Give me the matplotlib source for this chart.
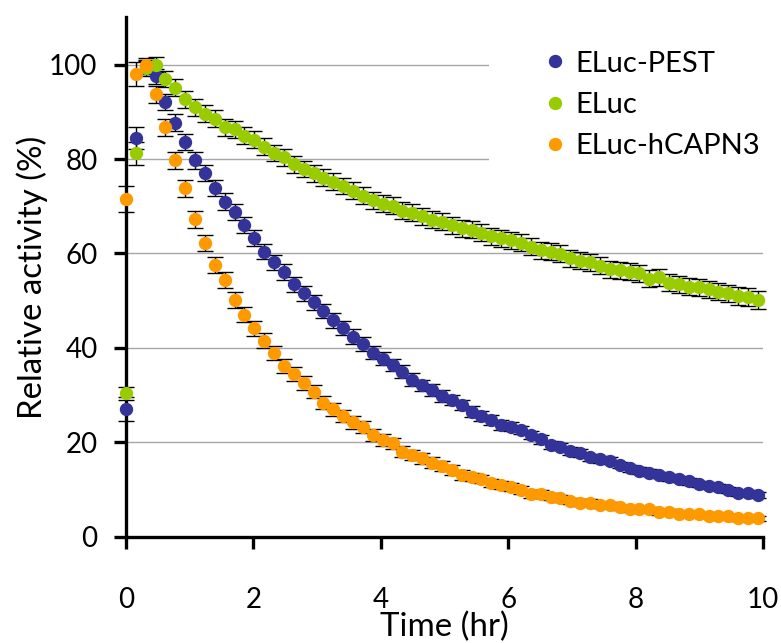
import numpy as np
import matplotlib as mpl
mpl.use('Agg')
from matplotlib import pyplot as plt

# ---------- data ----------

# read-out times (minutes after CHX addition)
time_min = [0, 9.3, 18.6, 27.9, 37.2, 46.5, 55.8, 65.1, 74.4, 83.7,
            93.0, 102.3, 111.6, 120.9, 130.2, 139.5, 148.8, 158.1, 167.4, 176.7,
            186.0, 195.3, 204.6, 213.9, 223.2, 232.5, 241.8, 251.1, 260.4, 269.7,
            279.0, 288.3, 297.6, 306.9, 316.2, 325.5, 334.8, 344.1, 353.4, 362.7,
            372.0, 381.3, 390.6, 399.9, 409.2, 418.5, 427.8, 437.1, 446.4, 455.7,
            465.0, 474.3, 483.6, 492.9, 502.2, 511.5, 520.8, 530.1, 539.4, 548.7,
            558.0, 567.3, 576.6, 585.9, 595.2]

# relative activity (%)
eluc_pest = [27.1, 84.5, 99.5, 97.5, 92.0, 87.7, 83.6, 79.8, 77.1, 73.8, 71.0, 68.7, 66.0, 63.2,
             60.4, 58.1, 56.1, 53.5, 51.6, 49.7, 47.9, 45.9, 44.2, 42.4, 40.8, 39.0, 37.7,
             36.4, 35.0, 33.3, 32.1, 31.1, 29.8, 29.0, 27.9, 26.5, 25.6, 24.7, 23.7, 23.3,
             22.6, 21.5, 20.6, 19.4, 19.1, 18.2, 17.7, 16.8, 16.4, 16.1, 15.2, 14.5, 14.0,
             13.6, 13.1, 12.6, 12.2, 11.7, 11.2, 10.7, 10.5, 9.9, 9.3, 9.3, 8.8]
eluc = [30.4, 81.2, 99.2, 100.0, 97.0, 95.1, 92.7, 91.0, 89.6, 88.6, 86.7, 86.3, 84.9, 84.1,
        82.6, 81.2, 80.4, 78.9, 77.9, 77.0, 76.1, 75.2, 74.2, 73.3, 72.2, 71.3, 70.5,
        70.1, 69.1, 68.6, 67.9, 67.2, 66.7, 66.0, 65.3, 65.0, 64.4, 63.7, 63.2, 62.8,
        62.3, 61.4, 60.7, 60.4, 59.9, 59.0, 58.5, 58.1, 57.4, 56.7, 56.5, 56.1, 55.8,
        54.7, 55.0, 53.8, 53.5, 53.0, 52.8, 52.4, 51.9, 51.6, 51.0, 50.7, 50.1]
eluc_hcapn3 = [71.5, 98.0, 100.0, 93.7, 86.7, 79.8, 73.8, 67.3, 62.3, 57.6, 54.4, 50.1, 47.0, 44.2,
               41.5, 39.0, 36.2, 34.4, 32.5, 30.7, 28.4, 27.0, 25.6, 24.2, 23.2, 21.5, 20.5,
               19.8, 18.0, 17.3, 16.6, 15.7, 15.0, 14.1, 13.1, 12.7, 12.2, 11.4, 11.0, 10.5,
               9.9, 9.0, 9.0, 8.5, 8.1, 7.6, 7.2, 7.2, 6.7, 6.7, 6.2, 5.8, 5.8,
               5.8, 5.3, 5.3, 4.8, 4.8, 4.8, 4.4, 4.4, 4.4, 3.9, 3.9, 3.9]

# error bars (SD, %)
eluc_pest_err = [2.5, 2.3, 1.5, 1.6, 1.7, 1.8, 1.7, 1.8, 1.7, 1.7, 1.8, 1.7, 1.7, 1.7,
                 1.6, 1.6, 1.7, 1.6, 1.6, 1.6, 1.5, 1.6, 1.5, 1.5, 1.5, 1.4, 1.4,
                 1.3, 1.3, 1.3, 1.2, 1.2, 1.2, 1.1, 1.1, 1.1, 1.0, 1.0, 1.0, 1.0,
                 0.9, 0.9, 0.9, 0.9, 0.8, 0.8, 0.8, 0.8, 0.8, 0.8, 0.7, 0.7, 0.7,
                 0.7, 0.7, 0.7, 0.7, 0.7, 0.6, 0.6, 0.6, 0.6, 0.6, 0.6, 0.6]
eluc_err = [1.4, 2.4, 1.5, 1.6, 1.7, 1.8, 1.8, 1.8, 1.8, 1.8, 1.8, 1.8, 1.8, 1.8,
            1.8, 1.7, 1.8, 1.8, 1.7, 1.8, 1.8, 1.8, 1.7, 1.8, 1.8, 1.8, 1.8,
            1.8, 1.8, 1.8, 1.8, 1.8, 1.8, 1.8, 1.8, 1.8, 1.8, 1.8, 1.8, 1.8,
            1.8, 1.8, 1.8, 1.8, 1.8, 1.8, 1.8, 1.8, 1.8, 1.8, 1.8, 1.8, 1.8,
            1.8, 1.8, 1.8, 1.8, 1.8, 1.8, 1.8, 1.8, 1.8, 1.9, 1.9, 1.9]
eluc_hcapn3_err = [2.8, 2.5, 1.5, 1.8, 1.8, 1.8, 1.8, 1.8, 1.7, 1.7, 1.7, 1.7, 1.6, 1.6,
                   1.6, 1.5, 1.5, 1.5, 1.5, 1.4, 1.4, 1.4, 1.3, 1.3, 1.3, 1.3, 1.2,
                   1.2, 1.2, 1.1, 1.1, 1.1, 1.0, 1.0, 1.0, 0.9, 0.9, 0.9, 0.9, 0.8,
                   0.8, 0.8, 0.8, 0.7, 0.7, 0.7, 0.7, 0.7, 0.6, 0.6, 0.6, 0.6, 0.6,
                   0.6, 0.6, 0.5, 0.5, 0.5, 0.5, 0.5, 0.5, 0.5, 0.5, 0.5, 0.5]

labels = ["ELuc-PEST", "ELuc", "ELuc-hCAPN3"]
colours = ["#333399", "#99CC00", "#FF9900"]
x_ticks = [0, 2, 4, 6, 8, 10]
y_ticks = [0, 20, 40, 60, 80, 100]

# ---------- plot ----------

plt.rcParams['font.family'] = ['Lato', 'DejaVu Sans']

fig = plt.figure(figsize=(7.81, 6.43), dpi=100)
ax = fig.add_axes([0.1613, 0.1653, 0.8157, 0.8075])

time_hr = np.array(time_min) / 60.0
series = [(eluc_pest, eluc_pest_err), (eluc, eluc_err), (eluc_hcapn3, eluc_hcapn3_err)]

handles = []
for (vals, errs), col, lab in zip(series, colours, labels):
    ax.errorbar(time_hr, vals, yerr=errs, fmt='none', ecolor='black',
                elinewidth=1.0, capsize=5.5, capthick=1.0, clip_on=False, zorder=3)
    h, = ax.plot(time_hr, vals, 'o', color=col, mec=col, ms=8.6,
                 clip_on=False, zorder=4, label=lab)
    handles.append(h)

ax.set_xlim(0, 10)
ax.set_ylim(0, 110)
ax.set_xticks(x_ticks)
ax.set_yticks(y_ticks)

ax.yaxis.grid(True, color='#a6a6a6', linewidth=1.0)
ax.set_axisbelow(True)

for side in ['top', 'right']:
    ax.spines[side].set_visible(False)
for side in ['left', 'bottom']:
    ax.spines[side].set_linewidth(2.4)

ax.tick_params(axis='both', direction='out', length=8.5, width=2.4, labelsize=20)
ax.tick_params(axis='x', pad=28)
ax.tick_params(axis='y', pad=12)

ax.set_xlabel("Time (hr)", fontsize=23.8, labelpad=-1)
ax.set_ylabel("Relative activity (%)", fontsize=23.8, labelpad=1)

leg = ax.legend(handles, labels, loc='center left',
                bbox_to_anchor=(474 / 781.0, 1 - 105 / 643.0), bbox_transform=fig.transFigure,
                frameon=True, facecolor='white', edgecolor='none', framealpha=1, fancybox=False,
                borderpad=1.76, handlelength=1.0, handletextpad=0.2, labelspacing=0.53,
                fontsize=21)
leg.set_zorder(10)

fig.savefig("out.png", dpi=100, facecolor='w')
